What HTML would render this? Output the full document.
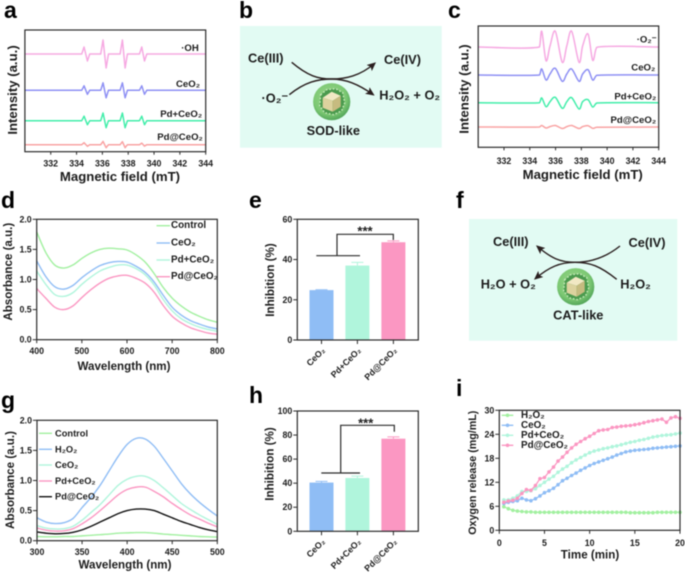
<!DOCTYPE html>
<html lang="en">
<head>
<meta charset="utf-8">
<title>Enzyme-like activity panels</title>
<style>
html,body{margin:0;padding:0;background:#fff;width:685px;height:575px;overflow:hidden}
svg{display:block;filter:blur(0.5px)}
text{font-family:"Liberation Sans",sans-serif;font-weight:bold;fill:#1c1c1c}
.pl{font-size:23px;fill:#000}
.t{font-size:13.2px;text-anchor:middle;dominant-baseline:central}
.m{font-size:11.6px;text-anchor:middle;dominant-baseline:central}
.l{font-size:9.6px;text-anchor:middle;dominant-baseline:central}
.lg{font-size:9.9px;dominant-baseline:central}
.sch{font-size:12.8px;dominant-baseline:central;fill:#1c1c1c}
.tick{font-size:8.8px;dominant-baseline:central}
</style>
</head>
<body>
<svg id="fig" xmlns="http://www.w3.org/2000/svg" width="685" height="575" viewBox="0 0 685 575">
<defs>
<radialGradient id="ballG" cx="45%" cy="40%" r="62%">
<stop offset="0" stop-color="#9bd68c"/><stop offset="0.7" stop-color="#7cc873"/><stop offset="1" stop-color="#4fa257"/>
</radialGradient>
<marker id="arrow" markerWidth="9" markerHeight="8" refX="7" refY="4" orient="auto" markerUnits="userSpaceOnUse"><path d="M0 0L9 4L0 8L2 4Z" fill="#2a1f1f"/></marker>
<symbol id="nano" viewBox="-20 -20 40 40" overflow="visible">
<circle r="18.6" fill="url(#ballG)"/>
<polygon points="-11,-7 -5,-12 4,-13 11,-9 13,1 10,9 2,13 -7,11 -12,4" fill="#4b9a4e"/>
<polygon points="-11,-7 -5,-12 4,-13 11,-9 13,1 10,9 2,13 -7,11 -12,4" fill="none" stroke="#cdecc0" stroke-width="1.4" stroke-dasharray="1.5 2"/>
<polygon points="-9,-4 0,-10 9,-6 1,-1" fill="#f1e8c4"/>
<polygon points="-9,-4 1,-1 1,10 -9,6" fill="#dcd29e"/>
<polygon points="1,-1 9,-6 9,5 1,10" fill="#c6bb80"/>
</symbol>
</defs>

<!-- Panel letters -->
<text class="pl" x="4" y="18">a</text>
<text class="pl" x="239" y="18">b</text>
<text class="pl" x="448" y="18">c</text>
<text class="pl" x="1" y="208">d</text>
<text class="pl" x="249" y="208">e</text>
<text class="pl" x="456" y="208">f</text>
<text class="pl" x="1" y="408">g</text>
<text class="pl" x="249" y="403">h</text>
<text class="pl" x="456" y="396">i</text>

<!-- Panel a -->
<g id="panel-a">
<text class="t" x="12.7" y="90" transform="rotate(-90 12.7 90)">Intensity (a.u.)</text>
<text class="t" x="120" y="176.7">Magnetic field (mT)</text>
<text class="l" x="190" y="48.7">·OH</text>
<text class="l" x="188" y="84.3">CeO₂</text>
<text class="l" x="181.2" y="114.7">Pd+CeO₂</text>
<text class="l" x="180" y="137.7">Pd@CeO₂</text>
</g>

<!-- Panel b -->
<g id="panel-b">
<rect x="240" y="26" width="201.7" height="121.7" fill="#e2fbf3"/>
<use href="#nano" x="311.7" y="81.7" width="40" height="40"/>
<path d="M291.7 62.3C308 76 318 79 331.7 79S358 84 373 94.5" fill="none" stroke="#2a1f1f" stroke-width="1.4" marker-end="url(#arrow)"/>
<path d="M289.3 94.7C305 82 318 79 331.7 79S360 76 374.5 63.5" fill="none" stroke="#2a1f1f" stroke-width="1.4" marker-end="url(#arrow)"/>
<text class="sch" x="248" y="58">Ce(III)</text>
<text class="sch" x="384" y="59.5">Ce(IV)</text>
<text class="sch" x="261.5" y="98">·O₂⁻</text>
<text class="sch" x="379.3" y="95">H₂O₂ + O₂</text>
<text class="sch" x="333.3" y="130.7" style="text-anchor:middle">SOD-like</text>
</g>

<!-- Panel c -->
<g id="panel-c">
<text class="t" x="464" y="89" transform="rotate(-90 464 89)">Intensity (a.u.)</text>
<text class="t" x="582.7" y="174.3">Magnetic field (mT)</text>
<text class="l" x="646.7" y="40">·O₂⁻</text>
<text class="l" x="643.3" y="68">CeO₂</text>
<text class="l" x="635.3" y="97">Pd+CeO₂</text>
<text class="l" x="633.3" y="120.7">Pd@CeO₂</text>
</g>

<!-- Panel d -->
<g id="panel-d">
<text class="m" x="8.5" y="271.7" transform="rotate(-90 8.5 271.7)">Absorbance (a.u.)</text>
<text class="m" x="124" y="366.7">Wavelength (nm)</text>
</g>
<g id="legend-d">
<text class="lg" x="171" y="225.7">Control</text>
<text class="lg" x="171" y="243">CeO₂</text>
<text class="lg" x="171" y="260">Pd+CeO₂</text>
<text class="lg" x="171" y="276.7">Pd@CeO₂</text>
</g>

<!-- Panel e -->
<g id="panel-e">
<text class="m" x="270.7" y="280" transform="rotate(-90 270.7 280)">Inhibition (%)</text>
</g>

<!-- Panel f -->
<g id="panel-f">
<rect x="469" y="219" width="208.3" height="121.7" fill="#e2fbf3"/>
<use href="#nano" x="555.7" y="266.7" width="40" height="40"/>
<path d="M620 246C605 258 590 262.3 575 262.3S551 258 537.5 246.5" fill="none" stroke="#2a1f1f" stroke-width="1.4" marker-end="url(#arrow)"/>
<path d="M616.7 279.3C600 266 590 262.3 575 262.3S549 267 535.5 278.5" fill="none" stroke="#2a1f1f" stroke-width="1.4" marker-end="url(#arrow)"/>
<text class="sch" x="493" y="241.7">Ce(III)</text>
<text class="sch" x="628.5" y="242.3">Ce(IV)</text>
<text class="sch" x="480.7" y="284">H₂O + O₂</text>
<text class="sch" x="620.3" y="284">H₂O₂</text>
<text class="sch" x="578.3" y="315" style="text-anchor:middle">CAT-like</text>
</g>

<!-- Panel g -->
<g id="panel-g">
<text class="m" x="10.5" y="480" transform="rotate(-90 10.5 480)">Absorbance (a.u.)</text>
<text class="m" x="125" y="565">Wavelength (nm)</text>
</g>
<g id="legend-g">
<text class="lg" x="55" y="433.3" style="font-size:9.3px">Control</text>
<text class="lg" x="55" y="449.3" style="font-size:9.3px">H₂O₂</text>
<text class="lg" x="55" y="465" style="font-size:9.3px">CeO₂</text>
<text class="lg" x="55" y="481" style="font-size:9.3px">Pd+CeO₂</text>
<text class="lg" x="55" y="496.7" style="font-size:9.3px">Pd@CeO₂</text>
</g>

<!-- Panel h -->
<g id="panel-h">
<text class="m" x="270" y="464" transform="rotate(-90 270 464)">Inhibition (%)</text>
</g>

<!-- Panel i -->
<g id="panel-i">
<text class="m" x="473" y="472.7" transform="rotate(-90 473 472.7)" style="font-size:10.7px">Oxygen release (mg/mL)</text>
<text class="m" x="590" y="555">Time (min)</text>
</g>
<g id="legend-i">
<text class="lg" x="521" y="415.3">H₂O₂</text>
<text class="lg" x="521" y="425.3">CeO₂</text>
<text class="lg" x="521" y="435.3">Pd+CeO₂</text>
<text class="lg" x="521" y="445.3">Pd@CeO₂</text>
</g>
</svg>

<script>
/* ---------- Panel a data ---------- */
var eprTicks = [332, 334, 336, 338, 340, 342, 344];
var fieldA = [330, 334.4, 334.58, 334.84, 335.02, 335.87, 336.05, 336.29, 336.47, 337.37, 337.55, 337.76, 337.94, 338.87, 339.05, 339.26, 339.44, 344];
var aOH = [0, 0, 7, -7, 0, 0, 14, -14, 0, 0, 14, -14, 0, 0, 7, -7, 0, 0];
var aCe = [0, 0, 4.5, -4, 0, 0, 7.5, -7.5, 0, 0, 7.5, -7.5, 0, 0, 4.5, -4, 0, 0];
var aPdPlus = [0, 0, 4.5, -4, 0, 0, 7.7, -7, 0, 0, 7.7, -7, 0, 0, 4.5, -4, 0, 0];
var aPdAt = [0, 0, 2, -1.6, 0, 0, 3.3, -3, 0, 0, 3, -3, 0, 0, 1.6, -1.4, 0, 0];
var aBaselines = [97.7, 61.4, 31, 7];

/* ---------- Panel c data ---------- */
var fieldC = [330, 334.75, 334.93, 335.26, 335.57, 335.98, 336.52, 336.87, 337.25, 337.82, 338.1, 338.52, 338.88, 339.2, 344];
var cO2 = [0, 0, 15.7, -13.7, 1, 15.7, -15.3, 1, 15.7, -15.3, 1, 13, -13.3, -0.3, 0];
var cCe = [0, 0, 6, -5, 1, 6.7, -6.3, 1, 6, -6.3, 1, 5.3, -5, -0.3, 0];
var cPdPlus = [0, 0, 4.7, -4, 1, 5.4, -5.6, 1, 5, -6.3, 1, 3, -4.3, -0.3, 0];
var cPdAt = [0, 0, 1.5, -1, 0.4, 1.5, -1.5, 0.4, 1.5, -1.5, 0.4, 1.3, -1.3, -0.3, 0];
var cBaselines = [100.3, 72.3, 44.6, 20.3];

/* ---------- Panel d data ---------- */
var wlD = [400, 420, 440, 460, 480, 500, 520, 540, 560, 580, 600, 620, 640, 660, 680, 700, 720, 740, 760, 780, 800];
var dControl = [1.79, 1.45, 1.24, 1.19, 1.24, 1.35, 1.44, 1.5, 1.52, 1.51, 1.49, 1.41, 1.29, 1.1, 0.87, 0.69, 0.56, 0.46, 0.39, 0.33, 0.29];
var dCe = [1.31, 1.05, 0.88, 0.84, 0.9, 1.03, 1.14, 1.23, 1.28, 1.3, 1.29, 1.22, 1.12, 0.96, 0.74, 0.54, 0.41, 0.32, 0.26, 0.21, 0.18];
var dPdPlus = [1.14, 0.92, 0.75, 0.72, 0.78, 0.92, 1.04, 1.14, 1.2, 1.24, 1.24, 1.18, 1.08, 0.91, 0.67, 0.48, 0.35, 0.27, 0.21, 0.17, 0.14];
var dPdAt = [0.85, 0.69, 0.54, 0.5, 0.56, 0.7, 0.83, 0.94, 1.02, 1.06, 1.07, 1.02, 0.94, 0.79, 0.57, 0.39, 0.28, 0.2, 0.15, 0.11, 0.09];
var dXTicks = [400, 500, 600, 700, 800];
var absTicks = [0, 0.5, 1, 1.5, 2];
var absTickLabels = ['0.0', '0.5', '1.0', '1.5', '2.0'];

/* ---------- Panel e data ---------- */
var barCategories = ['CeO₂', 'Pd+CeO₂', 'Pd@CeO₂'];
var eValues = [24.8, 37, 48.6];
var eErrors = [0.2, 1.6, 0.7];
var eYTicks = [0, 20, 40, 60];

/* ---------- Panel g data ---------- */
var wlG = [300, 310, 320, 330, 340, 350, 360, 370, 380, 390, 400, 410, 420, 430, 440, 450, 460, 470, 480, 490, 500];
var gControl = [0.07, 0.065, 0.065, 0.07, 0.07, 0.08, 0.09, 0.1, 0.11, 0.125, 0.13, 0.135, 0.135, 0.125, 0.11, 0.1, 0.09, 0.08, 0.07, 0.065, 0.06];
var gH2O2 = [0.38, 0.31, 0.285, 0.3, 0.37, 0.55, 0.72, 0.92, 1.16, 1.4, 1.6, 1.7, 1.69, 1.57, 1.37, 1.16, 0.95, 0.78, 0.64, 0.52, 0.41];
var gCe = [0.25, 0.21, 0.195, 0.2, 0.24, 0.34, 0.47, 0.6, 0.76, 0.92, 1.02, 1.07, 1.07, 1, 0.88, 0.75, 0.62, 0.52, 0.43, 0.35, 0.27];
var gPdPlus = [0.21, 0.175, 0.16, 0.165, 0.2, 0.28, 0.38, 0.5, 0.63, 0.76, 0.85, 0.89, 0.89, 0.82, 0.73, 0.62, 0.52, 0.43, 0.36, 0.29, 0.23];
var gPdAt = [0.145, 0.125, 0.115, 0.12, 0.14, 0.18, 0.24, 0.31, 0.38, 0.45, 0.5, 0.525, 0.525, 0.5, 0.44, 0.38, 0.32, 0.27, 0.22, 0.18, 0.15];
var gXTicks = [300, 350, 400, 450, 500];

/* ---------- Panel h data ---------- */
var hValues = [40.5, 44.3, 77];
var hErrors = [1, 1.6, 1.5];
var hYTicks = [0, 20, 40, 60, 80, 100];

/* ---------- Panel i data ---------- */
var timeI = [0.5, 1, 1.5, 2, 2.5, 3, 3.5, 4, 4.5, 5, 5.5, 6, 6.5, 7, 7.5, 8, 8.5, 9, 9.5, 10, 10.5, 11, 11.5, 12, 12.5, 13, 13.5, 14, 14.5, 15, 15.5, 16, 16.5, 17, 17.5, 18, 18.5, 19, 19.5, 20];
var iH2O2 = [5.9, 5.4, 5, 4.8, 4.7, 4.6, 4.6, 4.5, 4.5, 4.5, 4.5, 4.5, 4.5, 4.5, 4.5, 4.5, 4.5, 4.5, 4.5, 4.5, 4.5, 4.5, 4.5, 4.5, 4.5, 4.5, 4.5, 4.5, 4.4, 4.4, 4.4, 4.4, 4.4, 4.4, 4.5, 4.5, 4.5, 4.5, 4.5, 4.5];
var iCe = [6.7, 7, 7.2, 7.4, 8, 7.6, 7.4, 7.9, 8.6, 9.4, 9.9, 10.5, 11.4, 12.4, 13, 13.7, 14.3, 15, 15.6, 16.2, 16.7, 17.1, 17.5, 17.9, 18.3, 18.8, 19.2, 19.6, 19.8, 20, 20.1, 20.2, 20.3, 20.5, 20.6, 20.7, 20.8, 20.9, 21, 21.1];
var iPdPlus = [7.6, 7.6, 8, 8.6, 9.7, 9.7, 9.9, 10.4, 11.2, 12, 12.8, 13.5, 14.5, 15.3, 16, 16.9, 17.6, 18.2, 18.8, 19.4, 19.8, 20.1, 20.4, 20.6, 20.9, 21.1, 21.4, 21.7, 22, 22.2, 22.5, 22.7, 23, 23.3, 23.5, 23.7, 23.8, 23.9, 24.1, 24.3];
var iPdAt = [7, 7.3, 7.5, 8, 9.2, 10.2, 10, 11.2, 12.9, 13.2, 14.6, 15.8, 17.3, 18.3, 19.5, 20.6, 21.5, 22.2, 22.9, 23.5, 24.2, 24.9, 25.1, 25.2, 25.7, 25.8, 26, 26.1, 26.2, 26.4, 26.6, 26.9, 27.2, 27.4, 27.6, 27.8, 27, 28.1, 28.4, 28];
var iXTicks = [0, 5, 10, 15, 20];
var iYTicks = [0, 6, 12, 18, 24, 30];

/* ---------- Colours ---------- */
var PINK = '#f6a9e2', VIOLET = '#8e90f4', MINT = '#42eeaa', SALMON = '#f9a3a3';
var GREEN = '#a2f0a0', BLUE = '#8fbdf5', AQUA = '#b0f5dc', ROSE = '#fb97c2';
var AXIS = '#2b2b2b';

/* ---------- Helpers ---------- */
var NS = 'http://www.w3.org/2000/svg';
function mk(parent, tag, attrs, txt) {
  var el = document.createElementNS(NS, tag);
  for (var k in attrs) el.setAttribute(k, attrs[k]);
  if (txt !== undefined) el.textContent = txt;
  parent.appendChild(el);
  return el;
}
function lin(d0, d1, r0, r1) {
  return function (v) { return r0 + (v - d0) / (d1 - d0) * (r1 - r0); };
}
function straightPath(px, py) {
  var d = '';
  for (var i = 0; i < px.length; i++) d += (i ? 'L' : 'M') + px[i].toFixed(2) + ' ' + py[i].toFixed(2);
  return d;
}
function smoothPath(px, py) {
  var d = 'M' + px[0].toFixed(2) + ' ' + py[0].toFixed(2);
  for (var i = 0; i < px.length - 1; i++) {
    var a = Math.max(i - 1, 0), b = Math.min(i + 2, px.length - 1);
    var lim = Math.abs(px[i + 1] - px[i]);
    var c1x = px[i] + Math.min((px[i + 1] - px[a]) / 6, lim / 2), c1y = py[i] + (py[i + 1] - py[a]) / 6;
    var c2x = px[i + 1] - Math.min((px[b] - px[i]) / 6, lim / 2), c2y = py[i + 1] - (py[b] - py[i]) / 6;
    d += 'C' + c1x.toFixed(2) + ' ' + c1y.toFixed(2) + ' ' + c2x.toFixed(2) + ' ' + c2y.toFixed(2) + ' ' + px[i + 1].toFixed(2) + ' ' + py[i + 1].toFixed(2);
  }
  return d;
}
function drawFrame(g, x0, x1, yTop, yBot) {
  var el = mk(g, 'rect', { x: x0, y: yTop, width: x1 - x0, height: yBot - yTop, fill: 'none', stroke: AXIS, 'stroke-width': 1.2 });
  
  
}
function drawXTicks(g, vals, labels, sx, yBot, len, labelY) {
  vals.forEach(function (v, i) {
    var t = mk(g, 'line', { x1: sx(v), x2: sx(v), y1: yBot, y2: yBot + len, stroke: AXIS, 'stroke-width': 1 });
    
    
    var l = mk(g, 'text', { x: sx(v), y: labelY, 'class': 'tick', 'text-anchor': 'middle' }, labels[i]);
    
    
  });
}
function drawYTicks(g, vals, labels, sy, xLeft, len) {
  vals.forEach(function (v, i) {
    var t = mk(g, 'line', { x1: xLeft - len, x2: xLeft, y1: sy(v), y2: sy(v), stroke: AXIS, 'stroke-width': 1 });
    
    
    var l = mk(g, 'text', { x: xLeft - len - 1, y: sy(v), 'class': 'tick', 'text-anchor': 'end' }, labels[i]);
    
    
  });
}
function drawLine(g, xs, ys, sx, sy, color, width, smooth) {
  var px = xs.map(sx), py = ys.map(sy);
  var el = mk(g, 'path', { d: (smooth ? smoothPath : straightPath)(px, py), fill: 'none', stroke: color, 'stroke-width': width, 'stroke-linejoin': 'round' });
  
  
}
function legendKey(g, x1, x2, y, color) {
  var el = mk(g, 'line', { x1: x1, x2: x2, y1: y, y2: y, stroke: color, 'stroke-width': 1.4 });
  
  
}

/* ---------- EPR panels ---------- */
function drawEpr(id, x330, x344, yTop, yBot, field, series, bases, colors, labelY, smooth) {
  var g = document.getElementById(id);
  var sx = lin(330, 344, x330, x344), sy = lin(0, yBot - yTop, yBot, yTop);
  series.forEach(function (s, k) {
    var shifted = s.map(function (v) { return v + bases[k]; });
    drawLine(g, field, shifted, sx, sy, colors[k], 1.5, smooth);
  });
  drawFrame(g, x330, x344, yTop, yBot);
  drawXTicks(g, eprTicks, eprTicks.map(String), sx, yBot, 3, labelY);
}
var eprColors = [PINK, VIOLET, MINT, SALMON];
drawEpr('panel-a', 24.9, 205.7, 30, 151.7, fieldA, [aOH, aCe, aPdPlus, aPdAt], aBaselines, eprColors, 163.3, false);
drawEpr('panel-c', 478.2, 658.7, 26, 147.3, fieldC, [cO2, cCe, cPdPlus, cPdAt], cBaselines, eprColors, 161, true);

/* ---------- Absorbance panels ---------- */
(function () {
  var g = document.getElementById('panel-d');
  var sx = lin(400, 800, 36.7, 217.3), sy = lin(0, 2, 339.7, 219.3);
  [[dControl, GREEN], [dCe, BLUE], [dPdPlus, AQUA], [dPdAt, ROSE]].forEach(function (s) {
    drawLine(g, wlD, s[0], sx, sy, s[1], 1.4, true);
  });
  drawFrame(g, 36.7, 217.3, 219.3, 339.7);
  drawXTicks(g, dXTicks, dXTicks.map(String), sx, 339.7, 3.5, 351);
  drawYTicks(g, absTicks, absTickLabels, sy, 36.7, 4);
  var lg = document.getElementById('legend-d');
  legendKey(lg, 156.5, 170, 225.7, GREEN);
  legendKey(lg, 156.5, 170, 243, BLUE);
  legendKey(lg, 156.5, 170, 260, AQUA);
  legendKey(lg, 156.5, 170, 276.7, ROSE);
})();
(function () {
  var g = document.getElementById('panel-g');
  var sx = lin(300, 500, 37, 217.3), sy = lin(0, 2, 540.7, 420.3);
  [[gControl, GREEN], [gH2O2, BLUE], [gCe, AQUA], [gPdPlus, ROSE], [gPdAt, '#111']].forEach(function (s) {
    drawLine(g, wlG, s[0], sx, sy, s[1], 1.4, true);
  });
  drawFrame(g, 37, 217.3, 420.3, 540.7);
  drawXTicks(g, gXTicks, gXTicks.map(String), sx, 540.7, 3.5, 552);
  drawYTicks(g, absTicks, absTickLabels, sy, 37, 4);
  var lg = document.getElementById('legend-g');
  legendKey(lg, 39, 52, 433.3, GREEN);
  legendKey(lg, 39, 52, 449.3, BLUE);
  legendKey(lg, 39, 52, 465, AQUA);
  legendKey(lg, 39, 52, 481, ROSE);
  legendKey(lg, 39, 52, 496.7, '#111');
})();

/* ---------- Bar panels ---------- */
function drawBars(id, yMax, yBot, yTop, values, errors, yTicks, br) {
  var g = document.getElementById(id);
  var x0 = 297.3, x1 = 418.3, barW = 24;
  var centers = [321.5, 357.4, 393.4];
  var sy = lin(0, yMax, yBot, yTop);
  var colors = [BLUE, AQUA, ROSE];
  values.forEach(function (v, i) {
    var top = sy(v), eTop = sy(v + errors[i]);
    var eb = mk(g, 'path', { d: 'M' + centers[i] + ' ' + top + 'V' + eTop + 'M' + (centers[i] - 6) + ' ' + eTop + 'H' + (centers[i] + 6), stroke: colors[i], 'stroke-width': 1, fill: 'none' });
    
    
    var b = mk(g, 'rect', { x: centers[i] - barW / 2, y: top, width: barW, height: yBot - top, fill: colors[i] });
    
    
  });
  drawFrame(g, x0, x1, yTop, yBot);
  drawYTicks(g, yTicks, yTicks.map(String), sy, x0, 4);
  barCategories.forEach(function (c, i) {
    var t = mk(g, 'line', { x1: centers[i], x2: centers[i], y1: yBot, y2: yBot + 4, stroke: AXIS, 'stroke-width': 1 });
    
    
    var ax = centers[i] + 2, ay = yBot + 9;
    var l = mk(g, 'text', { x: ax, y: ay, 'class': 'tick', 'text-anchor': 'end', transform: 'rotate(-45 ' + ax + ' ' + ay + ')', style: 'font-size:8.8px' }, c);
    
    
  });
  var h = mk(g, 'path', { d: 'M' + br.l + ' ' + br.y1 + 'H' + br.r + 'M' + br.v + ' ' + br.y1 + 'V' + br.y2 + 'H' + br.e + 'V' + br.y3, fill: 'none', stroke: AXIS, 'stroke-width': 1.2 });
  
  
  var s = mk(g, 'text', { x: br.sx, y: br.sy, 'text-anchor': 'middle', 'dominant-baseline': 'central', style: 'font-size:13px' }, '***');
  
  
}
drawBars('panel-e', 60, 340, 219.3, eValues, eErrors, eYTicks, { l: 316.3, r: 360, y1: 255.7, v: 337, y2: 234.3, e: 393.3, y3: 240, sx: 365, sy: 231 });
drawBars('panel-h', 100, 531.3, 411, hValues, hErrors, hYTicks, { l: 321.3, r: 360, y1: 473, v: 340.7, y2: 425.3, e: 394.3, y3: 431.7, sx: 365.7, sy: 423 });

/* ---------- Oxygen release panel ---------- */
(function () {
  var g = document.getElementById('panel-i');
  var sx = lin(0, 20, 499.3, 680), sy = lin(0, 30, 530.3, 410.3);
  [[iH2O2, GREEN], [iCe, BLUE], [iPdPlus, AQUA], [iPdAt, ROSE]].forEach(function (s) {
    drawLine(g, timeI, s[0], sx, sy, s[1], 1.3, false);
    s[0].forEach(function (v, i) {
      var p = mk(g, 'circle', { cx: sx(timeI[i]), cy: sy(v), r: 1.8, fill: s[1] });
      
      
    });
  });
  drawFrame(g, 499.3, 680, 410.3, 530.3);
  drawXTicks(g, iXTicks, iXTicks.map(String), sx, 530.3, 3.5, 543);
  drawYTicks(g, iYTicks, iYTicks.map(String), sy, 499.3, 4);
  var lg = document.getElementById('legend-i');
  [[415.3, GREEN], [425.3, BLUE], [435.3, AQUA], [445.3, ROSE]].forEach(function (e) {
    legendKey(lg, 501.7, 513.3, e[0], e[1]);
    var d = mk(lg, 'circle', { cx: 507.5, cy: e[0], r: 1.8, fill: e[1] });
    
    
  });
})();
</script>
</body>
</html>
